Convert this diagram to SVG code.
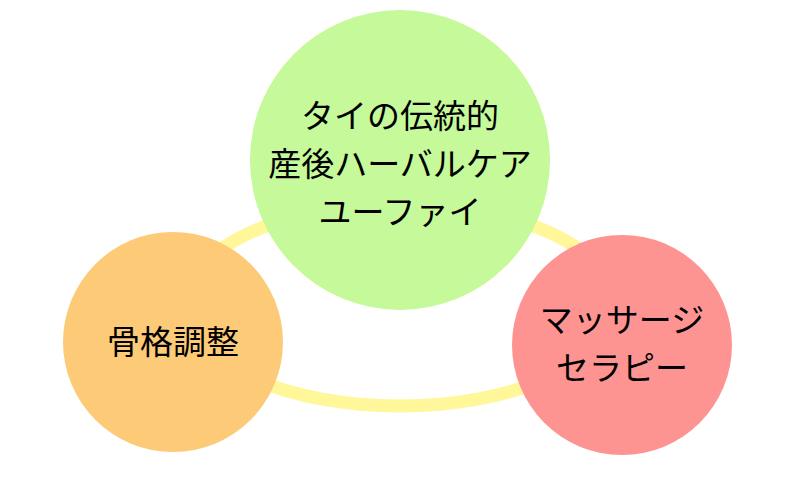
<svg xmlns="http://www.w3.org/2000/svg" width="800" height="500" viewBox="0 0 800 500">
<style>
text{font-family:"Noto Sans CJK JP","Noto Sans",sans-serif;font-size:33px;fill:#000;text-anchor:middle}
</style>
<rect width="800" height="500" fill="#fff"/>
<g id="connectors"><ellipse cx="400" cy="305" rx="215" ry="101" fill="none" stroke="#fff799" stroke-width="13"/></g>
<g id="n1"><circle cx="400" cy="160" r="150" fill="#c5f99a"/>
<text x="400" y="128">タイの伝統的</text><text x="400" y="176">産後ハーバルケア</text><text x="400" y="224">ユーファイ</text></g>
<g id="n2"><circle cx="173" cy="342" r="110" fill="#fdcb78"/><text x="173" y="354">骨格調整</text></g>
<g id="n3"><circle cx="622" cy="345" r="110" fill="#fe9491"/><text x="622" y="332">マッサージ</text><text x="622" y="380">セラピー</text></g>
</svg>
